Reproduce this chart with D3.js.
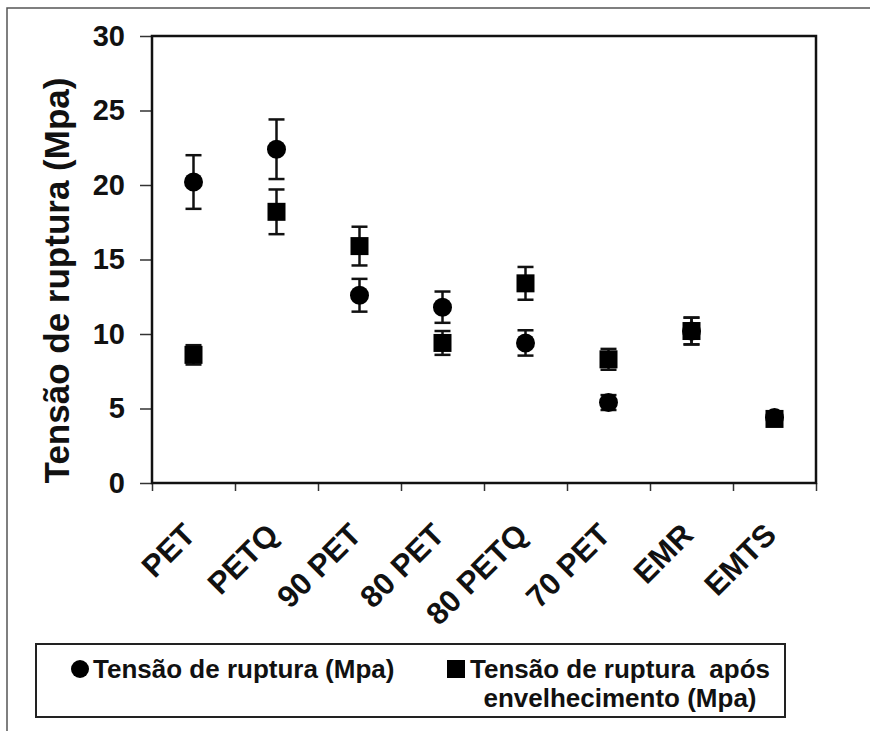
<!DOCTYPE html>
<html>
<head>
<meta charset="utf-8">
<script src="https://cdn.jsdelivr.net/npm/d3@7"></script>
<style>
  body { margin: 0; background: #fff; }
  text { font-family: "Liberation Sans", Arial, sans-serif; font-weight: bold; fill: #111; }
</style>
</head>
<body>
<div id="chart"></div>
<script>
// categories along the x axis
const categories = ["PET", "PETQ", "90 PET", "80 PET", "80 PETQ", "70 PET", "EMR", "EMTS"];

// Tensão de ruptura (Mpa), with error
const tensao = [20.2, 22.4, 12.6, 11.8, 9.4, 5.4, 10.2, 4.4];
const tensaoErr = [1.8, 2.0, 1.1, 1.05, 0.85, 0.5, 0.9, 0.4];

// Tensão de ruptura após envelhecimento (Mpa), with error
const envelhecido = [8.6, 18.2, 15.9, 9.4, 13.4, 8.3, 10.2, 4.3];
const envelhecidoErr = [0.65, 1.5, 1.3, 0.8, 1.1, 0.7, 0.9, 0.4];

const yTicks = [0, 5, 10, 15, 20, 25, 30];

const width = 870, height = 731;
const plotL = 152, plotR = 816, plotT = 36, plotB = 483;

const svg = d3.select("#chart").append("svg")
  .attr("width", width)
  .attr("height", height)
  .style("display", "block");

// outer frame (only top and left visible in the picture)
svg.append("rect")
  .attr("x", 7).attr("y", 8)
  .attr("width", 900).attr("height", 800)
  .attr("fill", "none")
  .attr("stroke", "#555")
  .attr("stroke-width", 1.5);

const x = d3.scaleBand().domain(categories).range([plotL, plotR]).padding(0);
const xTick = d3.scaleLinear().domain([0, categories.length]).range([plotL, plotR]);
const y = d3.scaleLinear().domain([0, 30]).range([plotB, plotT]);

// y axis ticks + labels
const yAxis = svg.append("g")
  .attr("transform", `translate(${plotL},0)`)
  .call(d3.axisLeft(y).tickValues(yTicks).tickSize(12).tickPadding(15));
yAxis.select(".domain").remove();
yAxis.selectAll("line").attr("stroke", "#333").attr("stroke-width", 1.5);
yAxis.selectAll("text")
  .attr("font-size", "29px")
  .attr("font-family", "Liberation Sans, Arial, sans-serif")
  .attr("font-weight", "bold")
  .attr("fill", "#111");

// x axis ticks at band edges
const xAxis = svg.append("g")
  .attr("transform", `translate(0,${plotB})`)
  .call(d3.axisBottom(xTick).ticks(categories.length).tickSize(8).tickFormat(""));
xAxis.select(".domain").remove();
xAxis.selectAll("line").attr("stroke", "#333").attr("stroke-width", 1.5);

// plot frame
svg.append("rect")
  .attr("x", plotL).attr("y", plotT)
  .attr("width", plotR - plotL).attr("height", plotB - plotT)
  .attr("fill", "none")
  .attr("stroke", "#111")
  .attr("stroke-width", 2.5);

// category labels, rotated
svg.append("g").selectAll("text")
  .data(categories)
  .join("text")
  .attr("transform", d => `translate(${x(d) + x.bandwidth() / 2 - 4},${plotB + 46}) rotate(-45)`)
  .attr("text-anchor", "end")
  .attr("dy", "0.35em")
  .attr("font-size", "31px")
  .text(d => d);

// y axis title
svg.append("text")
  .attr("transform", `translate(69,${(plotT + plotB) / 2 + 21}) rotate(-90)`)
  .attr("text-anchor", "middle")
  .attr("font-size", "35px")
  .text("Tensão de ruptura (Mpa)");

const cap = 8;
function errorBars(vals, errs) {
  const g = svg.append("g").attr("stroke", "#111").attr("stroke-width", 2.5);
  vals.forEach((v, i) => {
    const cx = x(categories[i]) + x.bandwidth() / 2;
    const y0 = y(v - errs[i]), y1 = y(v + errs[i]);
    g.append("line").attr("x1", cx).attr("x2", cx).attr("y1", y0).attr("y2", y1);
    g.append("line").attr("x1", cx - cap).attr("x2", cx + cap).attr("y1", y0).attr("y2", y0);
    g.append("line").attr("x1", cx - cap).attr("x2", cx + cap).attr("y1", y1).attr("y2", y1);
  });
}

errorBars(tensao, tensaoErr);
errorBars(envelhecido, envelhecidoErr);

// circles
svg.append("g").selectAll("circle")
  .data(tensao)
  .join("circle")
  .attr("cx", (d, i) => x(categories[i]) + x.bandwidth() / 2)
  .attr("cy", d => y(d))
  .attr("r", 9.5)
  .attr("fill", "#000");

// squares
const sq = 18;
svg.append("g").selectAll("rect")
  .data(envelhecido)
  .join("rect")
  .attr("x", (d, i) => x(categories[i]) + x.bandwidth() / 2 - sq / 2)
  .attr("y", d => y(d) - sq / 2)
  .attr("width", sq).attr("height", sq)
  .attr("fill", "#000");

// legend
const lg = svg.append("g");
lg.append("rect")
  .attr("x", 36).attr("y", 644)
  .attr("width", 749).attr("height", 73)
  .attr("fill", "none")
  .attr("stroke", "#222")
  .attr("stroke-width", 2);
lg.append("circle").attr("cx", 80).attr("cy", 669).attr("r", 9).attr("fill", "#000");
lg.append("text").attr("x", 93).attr("y", 678).attr("font-size", "26px")
  .text("Tensão de ruptura (Mpa)");
lg.append("rect").attr("x", 447).attr("y", 660).attr("width", 18).attr("height", 18).attr("fill", "#000");
lg.append("text").attr("x", 620).attr("y", 678).attr("font-size", "26px")
  .attr("text-anchor", "middle").style("white-space", "pre")
  .text("Tensão de ruptura  após");
lg.append("text").attr("x", 620).attr("y", 707).attr("font-size", "26px")
  .attr("text-anchor", "middle")
  .text("envelhecimento (Mpa)");
</script>
</body>
</html>
